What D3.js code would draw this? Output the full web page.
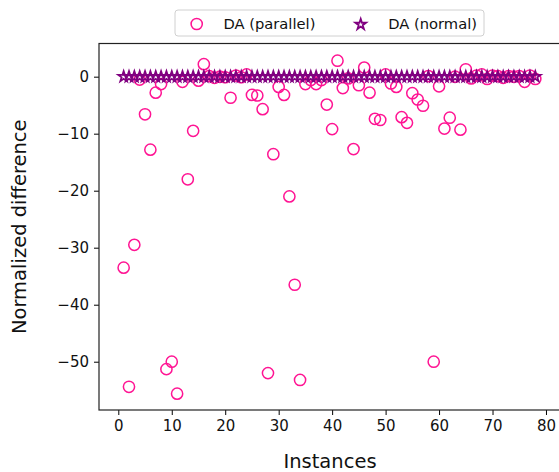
<!DOCTYPE html>
<html><head><meta charset="utf-8">
<script src="https://cdn.jsdelivr.net/npm/d3@7"></script>
<style>body{margin:0;background:#fff}svg{display:block}text{font-family:"DejaVu Sans",sans-serif}</style>
</head><body><div id="c"></div>
<script>
const instances = d3.range(1, 79);
const parallelValues = [
 -33.5, -54.4, -29.5, -0.5, -6.6, -12.8, -2.8, -1.3, -51.3, -50.0,
 -55.6, -0.9, -18.0, -9.5, -0.7, 2.2, 0.1, -0.2, 0.0, -0.1,
 -3.7, 0.2, -0.1, 0.4, -3.2, -3.3, -5.7, -52.0, -13.6, -1.8,
 -3.2, -21.0, -36.5, -53.2, -1.3, -0.6, -1.3, -0.6, -4.9, -9.2,
 2.8, -2.0, -0.3, -12.7, -1.5, 1.6, -2.8, -7.4, -7.6, 0.4,
 -1.2, -1.8, -7.1, -8.1, -2.9, -4.0, -5.1, 0.1, -50.0, -1.7,
 -9.1, -7.2, 0.0, -9.3, 1.3, -0.3, 0.2, 0.4, -0.4, 0.2,
 0.1, -0.2, 0.1, 0.0, 0.1, -0.9, 0.2, -0.4];
const normalValues = instances.map(() => 0);
const xTicks = [0, 10, 20, 30, 40, 50, 60, 70, 80];
const yTicks = [0, -10, -20, -30, -40, -50];
const seriesNames = ["DA (parallel)", "DA (normal)"];
const colors = ["#ff1493", "#800080"];

(function () {
const W = 559, H = 472;
const mL = 99, mR = 561, mT = 43.5, mB = 410;
const svg = d3.select("#c").append("svg").attr("width", W).attr("height", H);
const x = d3.scaleLinear().domain([-3.61, 82.81]).range([mL, mR]);
const y = d3.scaleLinear().domain([-58.47, 5.82]).range([mB, mT]);

function starPath(R) {
  const r = R * 0.382;
  const pts = [];
  for (let i = 0; i < 10; i++) {
    const a = -Math.PI / 2 + i * Math.PI / 5;
    const rad = i % 2 === 0 ? R : r;
    pts.push([rad * Math.cos(a), rad * Math.sin(a)]);
  }
  return "M" + pts.map(p => p[0].toFixed(2) + "," + p[1].toFixed(2)).join("L") + "Z";
}
const star = starPath(5.6);

const gx = svg.append("g").attr("transform", `translate(0,${mB})`)
  .call(d3.axisBottom(x).tickValues(xTicks).tickSize(5).tickPadding(5).tickFormat(d3.format("d")));
const gy = svg.append("g").attr("transform", `translate(${mL},0)`)
  .call(d3.axisLeft(y).tickValues(yTicks).tickSize(5).tickPadding(5).tickFormat(d => d < 0 ? "\u2212" + Math.abs(d) : d));
[gx, gy].forEach(g => {
  g.select(".domain").remove();
  g.selectAll("line").attr("stroke", "#000").attr("stroke-width", 1);
  g.selectAll("text").attr("font-size", 15).attr("fill", "#111").attr("font-family", "DejaVu Sans");
});
svg.append("rect").attr("x", mL).attr("y", mT).attr("width", mR - mL).attr("height", mB - mT)
  .attr("fill", "none").attr("stroke", "#222").attr("stroke-width", 1.2);

const plot = svg.append("g");
plot.selectAll("circle.p").data(instances).join("circle")
  .attr("cx", (d) => x(d)).attr("cy", (d, i) => y(parallelValues[i])).attr("r", 5.6)
  .attr("fill", "none").attr("stroke", colors[0]).attr("stroke-width", 1.5);
plot.selectAll("path.n").data(instances).join("path")
  .attr("d", star).attr("transform", (d, i) => `translate(${x(d)},${y(normalValues[i])})`)
  .attr("fill", "none").attr("stroke", colors[1]).attr("stroke-width", 1.8);

svg.append("text").attr("x", (mL + mR) / 2).attr("y", 468).attr("text-anchor", "middle")
  .attr("font-size", 19.5).attr("fill", "#111").text("Instances");
svg.append("text").attr("transform", `translate(26,${(mT + mB) / 2}) rotate(-90)`).attr("text-anchor", "middle")
  .attr("font-size", 19.5).attr("fill", "#111").text("Normalized difference");

const lg = svg.append("g");
lg.append("rect").attr("x", 175).attr("y", 10).attr("width", 309).attr("height", 26).attr("rx", 3)
  .attr("fill", "#fff").attr("stroke", "#d0d0d0").attr("stroke-width", 1);
lg.append("circle").attr("cx", 196.7).attr("cy", 24).attr("r", 5.6).attr("fill", "none")
  .attr("stroke", colors[0]).attr("stroke-width", 1.5);
lg.append("text").attr("x", 223.5).attr("y", 29).attr("font-size", 14.7).attr("fill", "#111").text(seriesNames[0]);
lg.append("path").attr("d", star).attr("transform", "translate(360.7,24.5)").attr("fill", "none")
  .attr("stroke", colors[1]).attr("stroke-width", 1.8);
lg.append("text").attr("x", 388.3).attr("y", 29).attr("font-size", 14.7).attr("fill", "#111").text(seriesNames[1]);
})();
</script></body></html>
